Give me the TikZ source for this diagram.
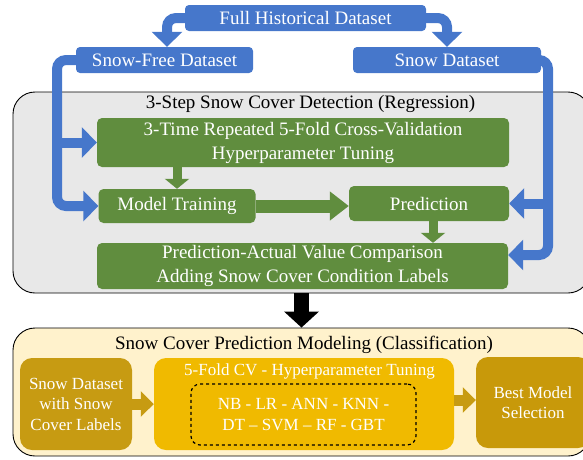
\documentclass[tikz,border=0pt]{standalone}
\usepackage{fontspec}
\setmainfont{Liberation Serif}
\usetikzlibrary{arrows.meta}

\definecolor{dsblue}{RGB}{70,119,203}
\definecolor{regreen}{RGB}{96,141,62}
\definecolor{panelgray}{RGB}{232,232,232}
\definecolor{panelyellow}{RGB}{255,242,204}
\definecolor{golddark}{RGB}{199,155,18}
\definecolor{goldlight}{RGB}{240,186,0}
\definecolor{goldmid}{RGB}{200,153,10}

\begin{document}
\begin{tikzpicture}[x=1pt,y=-1pt,
    panel/.style={draw=black, line width=0.9pt, rounded corners=22pt, inner sep=0pt},
    dsbox/.style={fill=dsblue, rounded corners=4pt, text=white, font=\fontsize{19}{23}\selectfont, inner sep=0pt},
    regbox/.style={fill=regreen, rounded corners=5pt, text=white, align=center, font=\fontsize{19}{24}\selectfont, inner sep=0pt},
    clsbox/.style={rounded corners=12pt, text=white, align=center, font=\fontsize{17}{20.5}\selectfont, inner sep=0pt},
    ttl/.style={font=\fontsize{19}{23}\selectfont},
    flow/.style={draw=dsblue, line width=10pt, rounded corners=9pt, -{Triangle[width=30pt,length=15pt]}},
    gflow/.style={draw=regreen, line width=9pt, -{Triangle[width=24pt,length=10pt]}},
    gbig/.style={draw=regreen, line width=13pt, -{Triangle[width=28pt,length=19pt]}},
    yflow/.style={draw=golddark, line width=11pt, -{Triangle[width=25pt,length=13pt]}},
    bigflow/.style={draw=black, line width=15pt, -{Triangle[width=34pt,length=16pt]}}]
    \clip (0,0) rectangle (583,459);
    % panels
    \node[panel, fill=panelgray, minimum width=577pt, minimum height=201pt] (detect) at (301.5,192.5) {};
    \node[ttl] (detectttl) at (310.5,104) {3-Step Snow Cover Detection (Regression)};
    \node[panel, fill=panelyellow, minimum width=577pt, minimum height=128pt] (model) at (301.5,392) {};
    \node[ttl] (modelttl) at (304,345) {Snow Cover Prediction Modeling (Classification)};
    % datasets
    \node[dsbox, minimum width=241pt, minimum height=26pt] (full) at (305.5,18) {Full Historical Dataset};
    \node[dsbox, minimum width=177pt, minimum height=26pt] (sfree) at (164.5,60) {Snow-Free Dataset};
    \node[dsbox, minimum width=188pt, minimum height=26pt] (snow) at (447,60) {Snow Dataset};
    % regression steps
    \node[regbox, minimum width=412pt, minimum height=49pt] (tune) at (303,142.5) {3-Time Repeated 5-Fold Cross-Validation\\Hyperparameter Tuning};
    \node[regbox, minimum width=157pt, minimum height=34pt] (train) at (177,206) {Model Training};
    \node[regbox, minimum width=160pt, minimum height=35pt] (pred) at (429,203.5) {Prediction};
    \node[regbox, minimum width=411pt, minimum height=46pt] (compare) at (302.5,266) {Prediction-Actual Value Comparison\\Adding Snow Cover Condition Labels};
    % classification steps
    \node[clsbox, fill=golddark, minimum width=112pt, minimum height=92pt] (labels) at (76,404) {Snow Dataset\\with Snow\\Cover Labels};
    \node[clsbox, fill=goldlight, minimum width=300pt, minimum height=92pt] (cv) at (304,404) {};
    \node[clsbox] (cvttl) at (309.5,371) {5-Fold CV - Hyperparameter Tuning};
    \node[clsbox, draw=black, dashed, line width=1.2pt, rounded corners=9pt, minimum width=225pt, minimum height=61pt] (algos) at (303.5,414.5) {NB - LR - ANN - KNN -\\DT – SVM – RF - GBT};
    \node[clsbox, fill=goldmid, minimum width=114pt, minimum height=91pt] (best) at (533,402.5) {Best Model\\Selection};
    % connectors
    \coordinate (lbus) at (57,142.5);
    \coordinate (rbus) at (548,203.5);
    \draw[flow] (full.west) -| ([xshift=2.5pt]sfree.north);
    \draw[flow] (full.east) -| (snow.north);
    \draw[flow] (sfree.west) -| (lbus) |- (train.west);
    \draw[flow] (lbus) -- (tune.west);
    \draw[flow] (snow.east) -| (rbus) |- ([yshift=11pt]compare.east);
    \draw[flow] (rbus) -- (pred.east);
    \draw[gflow] (tune.south -| train) -- (train.north);
    \draw[gflow] ([xshift=4pt]pred.south) -- ([xshift=4pt]pred.south |- compare.north);
    \draw[gbig] (train.east) -- (train.east -| pred.west);
    \draw[bigflow] (detect.south) -- (model.north);
    \draw[yflow] (labels.east) -- (cv.west);
    \draw[yflow] ([yshift=4pt]cv.east) -- ([yshift=4pt]cv.east -| best.west);
\end{tikzpicture}
\end{document}
